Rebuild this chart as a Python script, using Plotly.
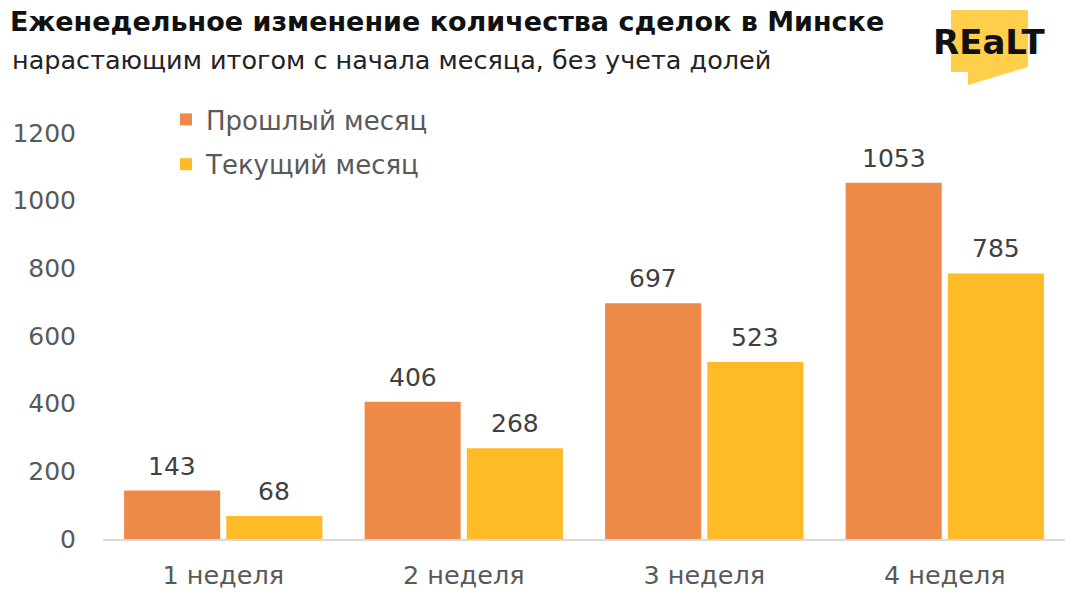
import plotly.graph_objects as go

categories = ["1 неделя", "2 неделя", "3 неделя", "4 неделя"]
prev_month = [143, 406, 697, 1053]
curr_month = [68, 268, 523, 785]
series_names = ["Прошлый месяц", "Текущий месяц"]
y_ticks = [0, 200, 400, 600, 800, 1000, 1200]

W, H = 1080, 604
ML, MR, MT, MB = 103, 15, 133, 65
PW, PH = W - ML - MR, H - MT - MB

def px(x, y):
    return (x - ML) / PW, (H - MB - y) / PH

FONT = "DejaVu Sans"
ORANGE = "#ED8A47"
YELLOW = "#FDBB27"
BARGAP = 0.15
slot = PW / len(categories)
bar_off = slot * (1 - BARGAP) / 4

fig = go.Figure()
for i, (name, vals, col, grp) in enumerate([(series_names[0], prev_month, ORANGE, "a"),
                                            (series_names[1], curr_month, YELLOW, "b")]):
    fig.add_trace(go.Bar(
        x=categories, y=vals, name=name, marker=dict(color=col, line=dict(width=0)),
        legendgroup=grp,
    ))
    for c, v in zip(categories, vals):
        fig.add_annotation(x=c, y=v, xref="x", yref="y", text=str(v), showarrow=False,
                           xanchor="center", yanchor="bottom", yshift=8,
                           xshift=(-bar_off if i == 0 else bar_off),
                           font=dict(size=25, color="#404040", family=FONT))

fig.update_layout(
    width=W, height=H,
    margin=dict(l=ML, r=MR, t=MT, b=MB, autoexpand=False),
    paper_bgcolor="white", plot_bgcolor="white",
    barmode="group", bargap=BARGAP, bargroupgap=0.06,
    font=dict(family=FONT, color="#595959"),
    title=dict(text="<b>Еженедельное изменение количества сделок в Минске</b>",
               x=10 / W, xref="container", xanchor="left",
               y=1 - 22 / H, yref="container", yanchor="middle",
               font=dict(size=27, color="#111111", family=FONT)),
    showlegend=True,
    legend=dict(x=px(166, 0)[0], y=px(0, 96)[1], xanchor="left", yanchor="top",
                font=dict(size=26, color="#595959", family=FONT),
                traceorder="grouped", tracegroupgap=8, itemwidth=30,
                bgcolor="rgba(0,0,0,0)"),
    xaxis=dict(showgrid=False, showline=True, linecolor="#D9D9D9", linewidth=1.5,
               ticks="", tickfont=dict(size=25.5, color="#595959"), ticklabelstandoff=13),
    yaxis=dict(range=[0, 1200], tickvals=y_ticks, showgrid=False, zeroline=False,
               showline=False, ticks="", tickfont=dict(size=25, color="#595959"),
               ticklabelstandoff=26),
)

fig.add_annotation(text="нарастающим итогом с начала месяца, без учета долей",
                   xref="paper", yref="paper", x=px(10, 0)[0], y=px(0, 60)[1],
                   xanchor="left", yanchor="middle", showarrow=False,
                   font=dict(size=25.5, color="#222222", family=FONT))

# logo
pts = [(951, 10), (1028, 10), (1028, 67), (968, 85), (968, 72), (951, 72)]
path = "M " + " L ".join(f"{px(x, y)[0]},{px(x, y)[1]}" for x, y in pts) + " Z"
fig.add_shape(type="path", path=path, xref="paper", yref="paper",
              fillcolor="#FFCE4A", line=dict(width=0), layer="above")
fig.add_annotation(text="<b>REaLT</b>", xref="paper", yref="paper",
                   x=px(989, 0)[0], y=px(0, 42)[1], xanchor="center", yanchor="middle",
                   showarrow=False, font=dict(size=34, color="#111111", family="DejaVu Sans"))

fig.write_html("out.html")
